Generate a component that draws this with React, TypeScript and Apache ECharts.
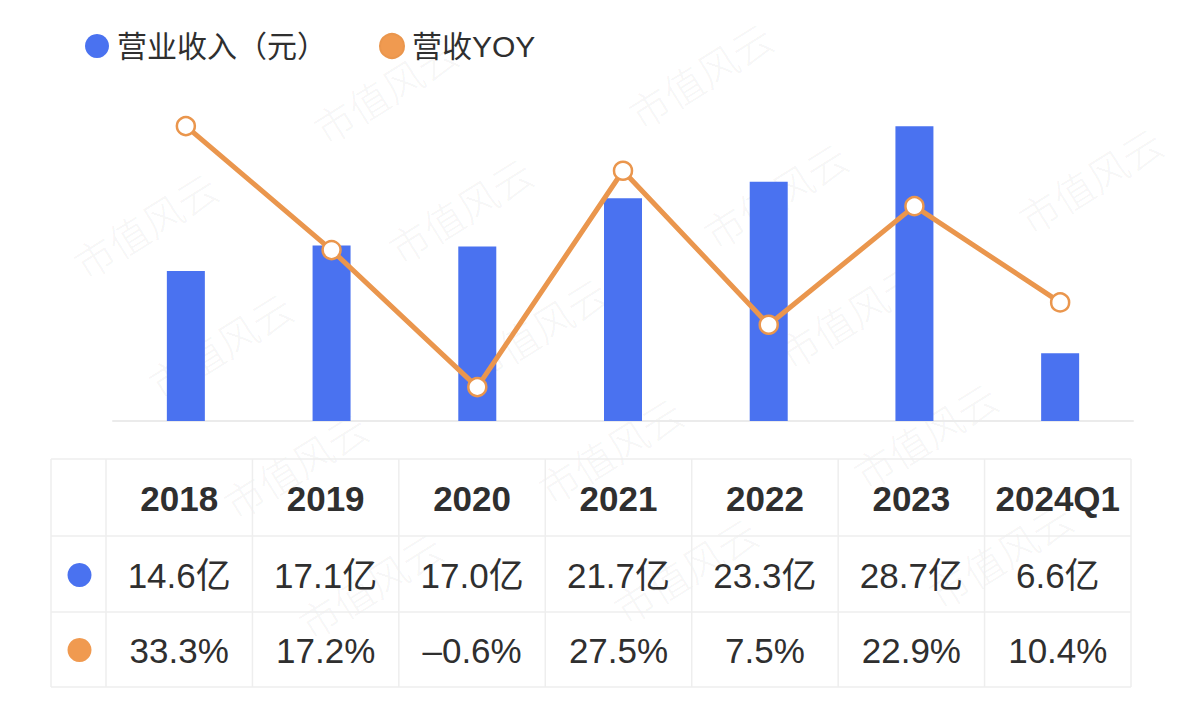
import React, { useEffect, useRef } from "react";
import * as echarts from "echarts";

const categories = ["2018", "2019", "2020", "2021", "2022", "2023", "2024Q1"];
const revenue = [14.6, 17.1, 17.0, 21.7, 23.3, 28.7, 6.6];
const yoy = [33.3, 17.2, -0.6, 27.5, 7.5, 22.9, 10.4];
const revenueName = "营业收入（元）";
const yoyName = "营收YOY";
const revenueUnit = "亿";
const watermarkText = "市值风云";

const BLUE = "#4a72f0";
const ORANGE = "#ea964d";
const TEXT = "#2f2f2f";
const LINE = "#eeeeee";
const FONT = "'Liberation Sans', 'Noto Sans CJK SC', sans-serif";

const fmtRevenue = (v: number) => v.toFixed(1) + revenueUnit;
const fmtYoy = (v: number) => (v < 0 ? "–" : "") + Math.abs(v).toFixed(1) + "%";

export default function App() {
  const ref = useRef<HTMLDivElement>(null);

  useEffect(() => {
    if (!ref.current) return;
    const chart = echarts.init(ref.current, undefined, { renderer: "svg" });

    chart.setOption({
      animation: false,
      backgroundColor: "#ffffff",
      legend: {
        left: 80,
        top: 26,
        itemWidth: 30,
        itemHeight: 24,
        itemGap: 52,
        icon: "circle",
        textStyle: { fontSize: 30, color: TEXT, fontFamily: FONT },
        data: [
          { name: revenueName, itemStyle: { color: BLUE } },
          { name: yoyName, itemStyle: { color: "#f09a50" } },
        ],
      },
      grid: { left: 113, right: 51, top: 113, bottom: 283 },
      xAxis: {
        type: "category",
        data: categories,
        axisLine: { show: true, lineStyle: { color: "#ebebeb", width: 2 } },
        axisTick: { show: false },
        axisLabel: { show: false },
        splitLine: { show: false },
      },
      yAxis: [
        { type: "value", min: 0, max: 30, show: false, splitLine: { show: false } },
        { type: "value", min: -5, max: 35, show: false, splitLine: { show: false } },
      ],
      series: [
        {
          name: revenueName,
          type: "bar",
          data: revenue,
          barWidth: 38,
          itemStyle: { color: BLUE },
          yAxisIndex: 0,
          z: 2,
        },
        {
          name: yoyName,
          type: "line",
          data: yoy,
          yAxisIndex: 1,
          symbol: "circle",
          symbolSize: 18,
          lineStyle: { color: ORANGE, width: 5 },
          itemStyle: { color: "#ffffff", borderColor: ORANGE, borderWidth: 2.5 },
          z: 3,
        },
      ],
    });

    // Table layout (slightly offset from the bar columns, as in the reference)
    const tableLeft = 51;
    const firstColRight = 106;
    const tableRight = 1131;
    const colW = (tableRight - firstColRight) / categories.length;
    const colCenters = categories.map((_, i) => firstColRight + colW * (i + 0.5));
    const rowLines = [459, 536, 612, 687];
    const rowCenters = [498, 575, 650];

    const elements: any[] = [];

    // watermark (only copies that lie fully inside the picture)
    const W = 1184;
    const H = 704;
    const ang = 0.56;
    const halfW = 82;
    const halfH = 22;
    const ex = Math.cos(ang) * halfW + Math.sin(ang) * halfH;
    const ey = Math.sin(ang) * halfW + Math.cos(ang) * halfH;
    for (let j = -1; j < 7; j++) {
      for (let i = -2; i < 5; i++) {
        const cx = 70 + 315 * i + 75 * j;
        const cy = 105 - 15 * i + 120 * j;
        if (cx - ex < 0 || cx + ex > W || cy - ey < 0 || cy + ey > H) continue;
        elements.push({
          type: "text",
          x: cx,
          y: cy,
          rotation: ang,
          z: -10,
          silent: true,
          style: {
            text: watermarkText,
            fill: "rgba(0,0,0,0.055)",
            font: "300 40px 'Noto Sans CJK SC', sans-serif",
            align: "center",
            verticalAlign: "middle",
            textAlign: "center",
            textVerticalAlign: "middle",
          },
        });
      }
    }

    // table horizontal lines
    rowLines.forEach((y) => {
      elements.push({
        type: "line",
        z: 5,
        shape: { x1: tableLeft, y1: y, x2: tableRight, y2: y },
        style: { stroke: LINE, lineWidth: 1.5 },
      });
    });
    // vertical lines
    const vxs = [tableLeft, firstColRight, ...colCenters.map((c) => c + colW / 2)];
    vxs.forEach((x) => {
      elements.push({
        type: "line",
        z: 5,
        shape: { x1: x, y1: rowLines[0], x2: x, y2: rowLines[rowLines.length - 1] },
        style: { stroke: LINE, lineWidth: 1.5 },
      });
    });

    const cellText = (x: number, y: number, text: string, weight: string) => ({
      type: "text",
      x,
      y,
      z: 6,
      style: {
        text,
        fill: TEXT,
        font: `${weight} 35px ${FONT}`,
        align: "center",
        verticalAlign: "middle",
        textAlign: "center",
        textVerticalAlign: "middle",
      },
    });

    categories.forEach((c, i) => {
      elements.push(cellText(colCenters[i], rowCenters[0], c, "bold"));
      elements.push(cellText(colCenters[i], rowCenters[1], fmtRevenue(revenue[i]), "normal"));
      elements.push(cellText(colCenters[i], rowCenters[2], fmtYoy(yoy[i]), "normal"));
    });

    const dotX = (tableLeft + firstColRight) / 2 + 1;
    elements.push({
      type: "circle",
      z: 6,
      shape: { cx: dotX, cy: rowCenters[1], r: 12 },
      style: { fill: BLUE },
    });
    elements.push({
      type: "circle",
      z: 6,
      shape: { cx: dotX, cy: rowCenters[2], r: 12 },
      style: { fill: "#f09a50" },
    });

    chart.setOption({ graphic: { elements } });

    return () => {
      chart.dispose();
    };
  }, []);

  return (
    <div
      ref={ref}
      style={{ position: "fixed", left: 0, top: 0, width: 1184, height: 704, background: "#fff" }}
    />
  );
}
